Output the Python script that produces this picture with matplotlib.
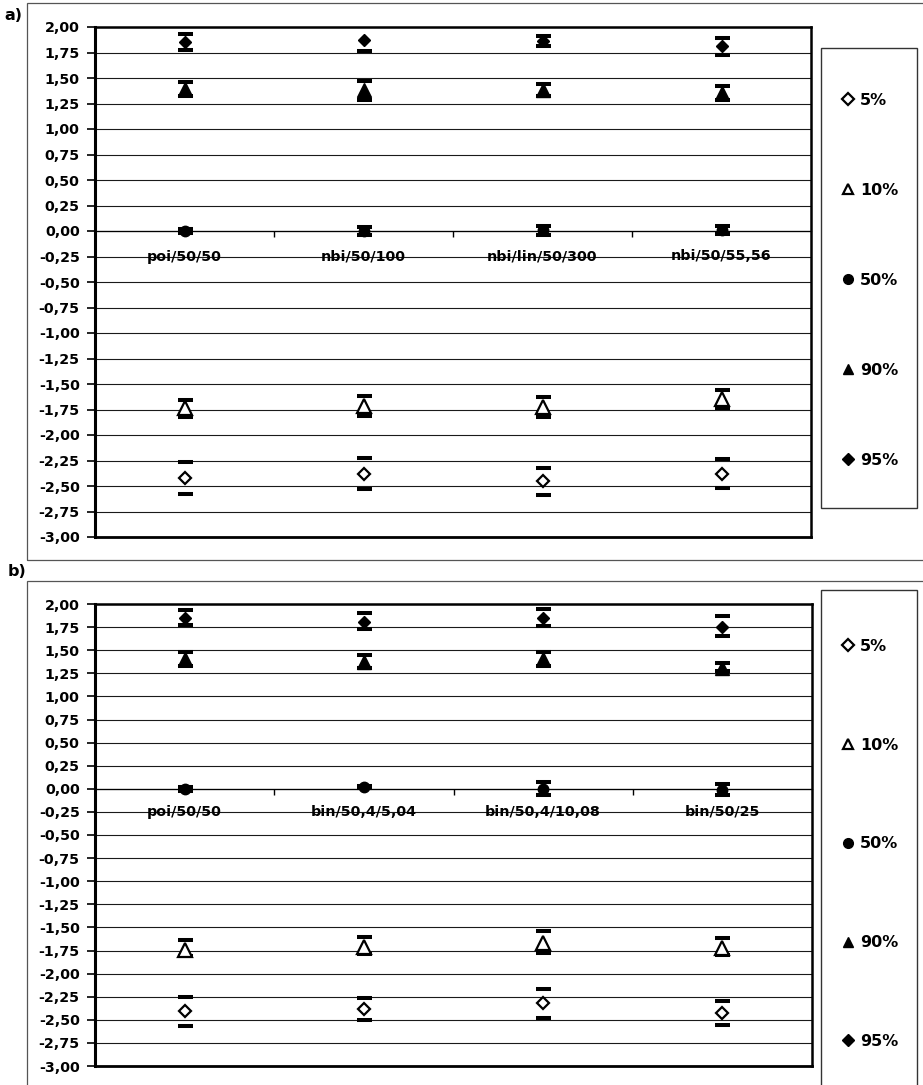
import matplotlib
matplotlib.use("Agg")
import matplotlib.pyplot as plt
from matplotlib.lines import Line2D
from matplotlib.patches import Rectangle

# ---- data -------------------------------------------------------------
cats_a = ["poi/50/50", "nbi/50/100", "nbi/lin/50/300", "nbi/50/55,56"]
cats_b = ["poi/50/50", "bin/50,4/5,04", "bin/50,4/10,08", "bin/50/25"]

# panel a: quantile estimate and lower / upper interval limits
a_p05 = [-2.42, -2.38, -2.45, -2.38]
a_p05_lo = [-2.58, -2.53, -2.59, -2.52]
a_p05_hi = [-2.26, -2.23, -2.32, -2.24]
a_p10 = [-1.74, -1.72, -1.73, -1.65]
a_p10_lo = [-1.82, -1.81, -1.82, -1.74]
a_p10_hi = [-1.66, -1.62, -1.63, -1.56]
a_p50 = [0.00, 0.00, 0.01, 0.01]
a_p50_lo = [-0.02, -0.04, -0.04, -0.03]
a_p50_hi = [0.02, 0.04, 0.05, 0.05]
a_p90 = [1.39, 1.38, 1.38, 1.35]
a_p90_lo = [1.32, 1.28, 1.32, 1.28]
a_p90_hi = [1.46, 1.47, 1.44, 1.42]
a_p95 = [1.85, 1.87, 1.86, 1.81]
a_p95_lo = [1.77, 1.76, 1.81, 1.73]
a_p95_hi = [1.93, 2.01, 1.91, 1.89]

# panel b
b_p05 = [-2.41, -2.38, -2.32, -2.43]
b_p05_lo = [-2.57, -2.50, -2.48, -2.56]
b_p05_hi = [-2.25, -2.26, -2.17, -2.30]
b_p10 = [-1.74, -1.71, -1.67, -1.72]
b_p10_lo = [-1.81, -1.79, -1.78, -1.80]
b_p10_hi = [-1.64, -1.60, -1.54, -1.62]
b_p50 = [0.00, 0.02, 0.00, -0.01]
b_p50_lo = [-0.02, 0.01, -0.07, -0.07]
b_p50_hi = [0.02, 0.03, 0.07, 0.05]
b_p90 = [1.40, 1.37, 1.40, 1.31]
b_p90_lo = [1.33, 1.31, 1.33, 1.27]
b_p90_hi = [1.48, 1.45, 1.48, 1.36]
b_p95 = [1.85, 1.81, 1.85, 1.75]
b_p95_lo = [1.77, 1.73, 1.76, 1.65]
b_p95_hi = [1.93, 1.90, 1.95, 1.87]

series_labels = ["5%", "10%", "50%", "90%", "95%"]
y_ticks = [2.00 - 0.25 * i for i in range(21)]

# ---- styling -----------------------------------------------------------
plt.rcParams["font.family"] = ["DejaVu Sans"]
plt.rcParams["font.weight"] = "bold"

W, H = 923, 1085
fig = plt.figure(figsize=(W / 100, H / 100), dpi=100)
fig.patch.set_facecolor("white")


def fx(px):
    return px / W


def fy(py):
    return 1 - py / H


styles = [
    dict(marker="D", mfc="white", ms=6.5, mew=1.6),   # 5%
    dict(marker="^", mfc="white", ms=9.5, mew=1.6),   # 10%
    dict(marker="o", mfc="black", ms=7.5, mew=1.0),   # 50%
    dict(marker="^", mfc="black", ms=10.5, mew=1.0),  # 90%
    dict(marker="D", mfc="black", ms=6.5, mew=1.0),   # 95%
]


def fmt_tick(v):
    s = f"{v:.2f}".replace(".", ",")
    if s == "-0,00":
        s = "0,00"
    return s


def draw_panel(rect, cats, data, label_y=-0.25):
    ax = fig.add_axes(rect)
    n = len(cats)
    xs = list(range(n))
    ax.set_xlim(-0.5, n - 0.5)
    ax.set_ylim(-3.0, 2.0)

    # horizontal grid
    ax.set_yticks(y_ticks)
    ax.set_yticklabels([fmt_tick(v) for v in y_ticks], fontsize=10.3,
                       fontweight="bold")
    ax.yaxis.grid(True, color="#1a1a1a", lw=0.8)
    ax.set_axisbelow(True)
    ax.tick_params(axis="y", direction="out", length=6, width=1.2, pad=5)

    # category axis sits at zero, with ticks between categories
    ax.spines["bottom"].set_position(("data", 0))
    ax.spines["bottom"].set_linewidth(0.9)
    ax.set_xticks([i + 0.5 for i in range(n - 1)])
    ax.set_xticklabels([])
    ax.tick_params(axis="x", direction="out", length=4, width=1.0)
    for side in ("left", "top", "right"):
        ax.spines[side].set_linewidth(1.8)
    ax.spines["left"].set_linewidth(2.2)
    ax.axhline(-3.0, color="black", lw=2.0, clip_on=False, zorder=5)

    for i, c in enumerate(cats):
        ax.text(i, label_y, c, ha="center", va="center", fontsize=10.3,
                fontweight="bold", zorder=4)

    for (vals, lo, hi), st in zip(data, styles):
        yerr = [[v - l for v, l in zip(vals, lo)],
                [h - v for v, h in zip(vals, hi)]]
        ax.errorbar(xs, vals, yerr=yerr, fmt="none", ecolor="black",
                    elinewidth=0, capsize=5.4, capthick=2.9, zorder=3)
        ax.plot(xs, vals, ls="none", marker=st["marker"], mfc=st["mfc"],
                mec="black", ms=st["ms"], mew=st["mew"], zorder=4)
    return ax


data_a = [(a_p05, a_p05_lo, a_p05_hi), (a_p10, a_p10_lo, a_p10_hi),
          (a_p50, a_p50_lo, a_p50_hi), (a_p90, a_p90_lo, a_p90_hi),
          (a_p95, a_p95_lo, a_p95_hi)]
data_b = [(b_p05, b_p05_lo, b_p05_hi), (b_p10, b_p10_lo, b_p10_hi),
          (b_p50, b_p50_lo, b_p50_hi), (b_p90, b_p90_lo, b_p90_hi),
          (b_p95, b_p95_lo, b_p95_hi)]

ax_a = draw_panel([fx(95), fy(537), 716 / W, 510 / H], cats_a, data_a)
ax_b = draw_panel([fx(95), fy(1066), 717 / W, 462 / H], cats_b, data_b)

# outer chart frames
frame_kw = dict(transform=fig.transFigure, fill=False, ec="#555555",
                lw=0.9, clip_on=False)
fig.add_artist(Rectangle((fx(27), fy(560)), fx(960) - fx(27),
                         fy(3) - fy(560), **frame_kw))
fig.add_artist(Rectangle((fx(27), fy(1120)), fx(960) - fx(27),
                         fy(581) - fy(1120), **frame_kw))

# legend boxes
leg_box_kw = dict(transform=fig.transFigure, fill=False, ec="#333333",
                  lw=1.0, clip_on=False)
fig.add_artist(Rectangle((fx(821), fy(508)), (917 - 821) / W,
                         (508 - 48) / H, **leg_box_kw))
fig.add_artist(Rectangle((fx(821), fy(1120)), (917 - 821) / W,
                         (1120 - 590) / H, **leg_box_kw))

leg_sizes = [6.0, 7.5, 7.0, 7.5, 6.0]
handles = [Line2D([], [], ls="none", marker=st["marker"], mfc=st["mfc"],
                  mec="black", ms=s, mew=1.6 if st["mfc"] == "white" else 1.0)
           for st, s in zip(styles, leg_sizes)]


def add_legend(center_y_px, spacing_px):
    fs = 11.5
    fs_px = fs * 100 / 72
    leg = fig.legend(handles, series_labels, loc="center",
                     bbox_to_anchor=(fx(870), fy(center_y_px)),
                     bbox_transform=fig.transFigure, frameon=False,
                     prop=dict(size=fs, weight="bold"), handlelength=0.8,
                     handletextpad=0.35, borderpad=0.0,
                     labelspacing=(spacing_px - fs_px * 1.05) / fs_px)
    return leg


add_legend((97 + 464) / 2, 91.75)
add_legend((643 + 1045) / 2, 100.5)

fig.text(fx(4), fy(16), "a)", fontsize=11.5, fontweight="bold",
         va="center", ha="left")
fig.text(fx(8), fy(571), "b)", fontsize=11.5, fontweight="bold",
         va="center", ha="left")

fig.savefig("out.png", dpi=100)
